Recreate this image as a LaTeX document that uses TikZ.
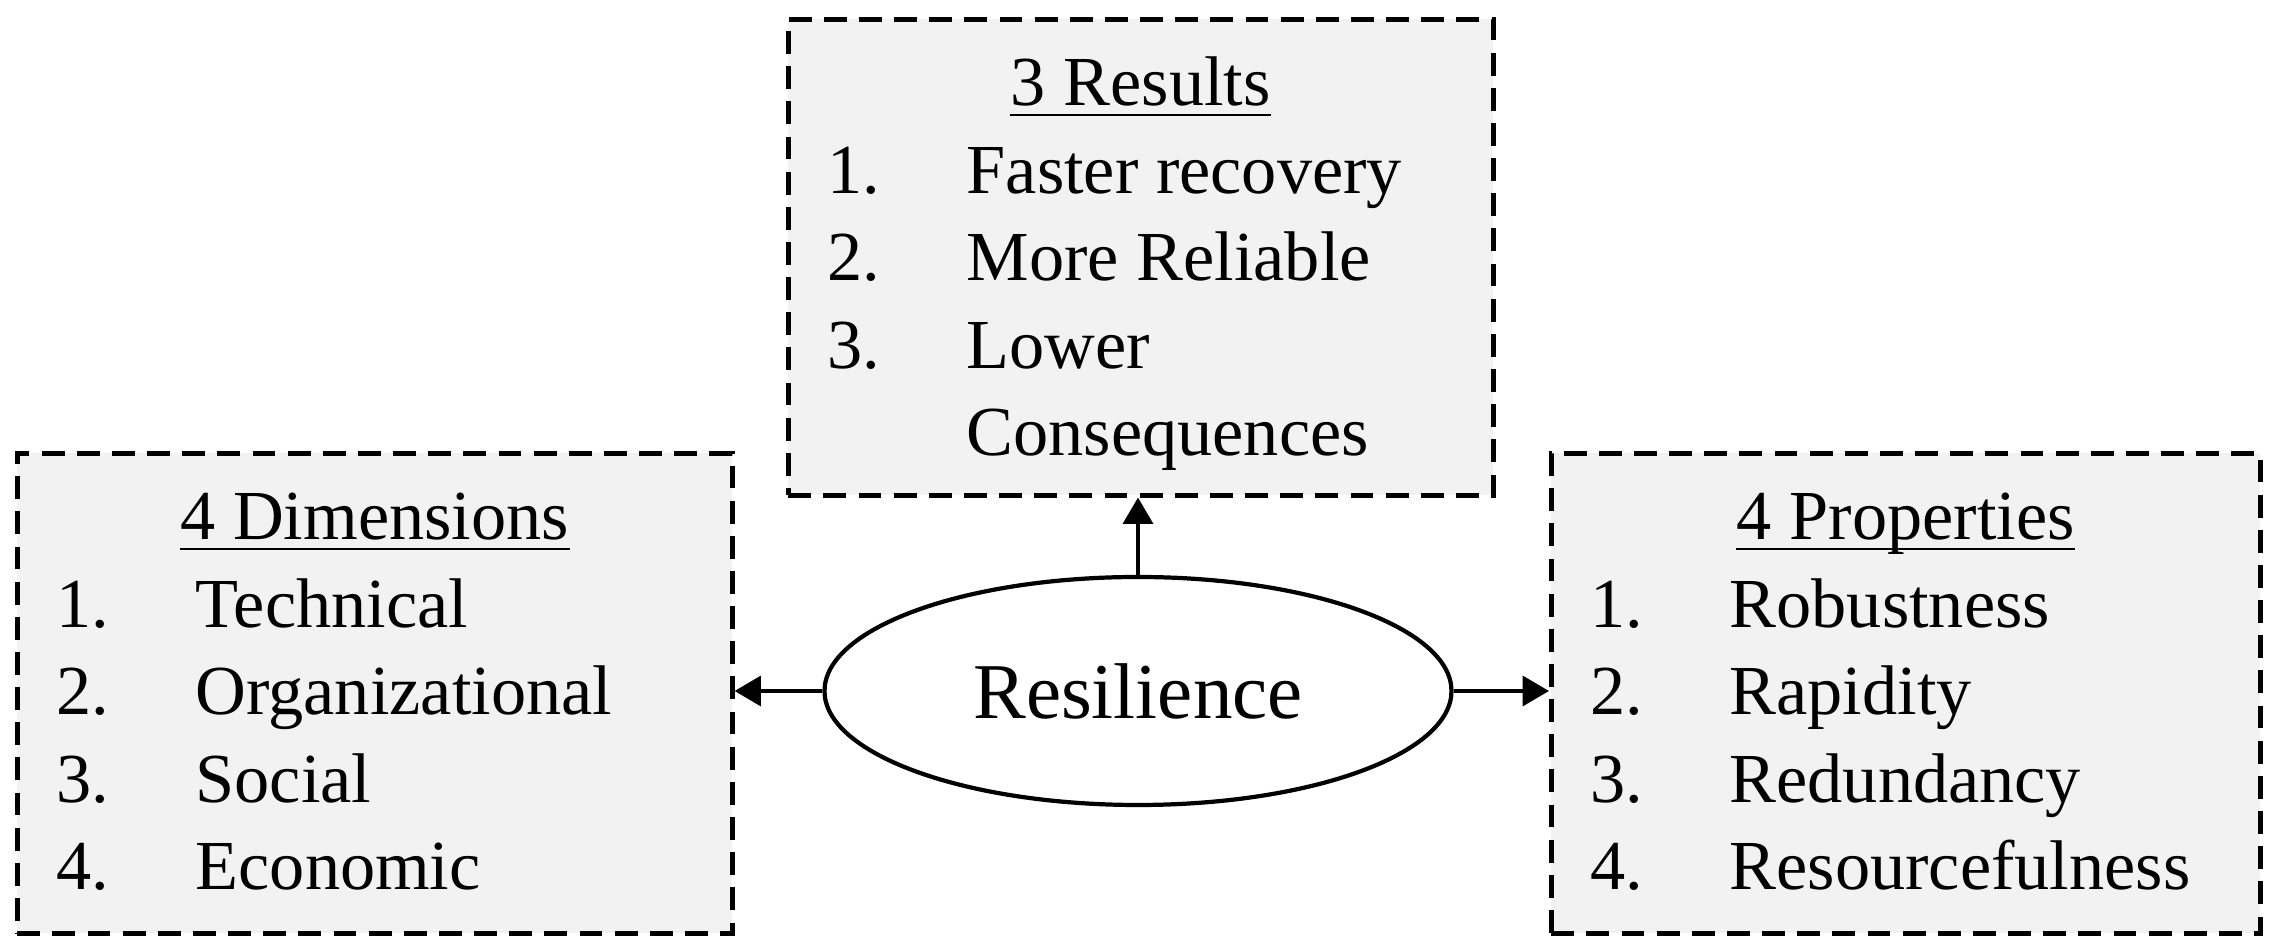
\documentclass[tikz,border=0pt]{standalone}
\usepackage{fontspec}
\setmainfont{Liberation Serif}
\usetikzlibrary{arrows.meta}
\usetikzlibrary{shapes.geometric}
\definecolor{boxgray}{HTML}{F2F2F2}

\begin{document}
\begin{tikzpicture}[
  box/.style={draw, line width=1.3pt, dash pattern=on 6.5pt off 3.5pt, fill=boxgray,
    inner sep=0pt, anchor=north west},
  head/.style={inner sep=0pt, anchor=base, font=\fontsize{20}{24}\selectfont},
  item/.style={inner sep=0pt, anchor=base west, font=\fontsize{20}{24}\selectfont},
  link/.style={line width=1.1pt, -{Triangle[length=7.5pt,width=8.5pt]}}
]
\useasboundingbox (0,0) rectangle (22.74,9.5);
% boxes
\node[box, minimum width=7.05cm, minimum height=4.76cm] (results) at (7.86,9.33) {};
\node[box, minimum width=7.15cm, minimum height=4.80cm] (dims) at (0.15,4.99) {};
\node[box, minimum width=7.09cm, minimum height=4.80cm] (props) at (15.49,4.99) {};
\node[ellipse, draw, line width=1.2pt, minimum width=6.27cm, minimum height=2.28cm,
  inner sep=0pt, font=\fontsize{22.5}{27}\selectfont] (res) at (11.38,2.59) {Resilience};
% headings, underlined
\foreach \bx/\hd in {results/3 Results, dims/4 Dimensions, props/4 Properties}{
  \node[head] (\bx-hd) at ([yshift=-0.89cm]\bx.north) {\hd};
  \draw[line width=0.8pt] ([yshift=-0.09cm]\bx-hd.base west) -- ([yshift=-0.09cm]\bx-hd.base east);
}
% lists
\foreach \bx/\lst in {results/{Faster recovery,More Reliable,Lower},
    dims/{Technical,Organizational,Social,Economic},
    props/{Robustness,Rapidity,Redundancy,Resourcefulness}}{
  \foreach \t [count=\i] in \lst{
    \node[item] (\bx-n\i) at ([xshift=0.41cm, yshift={-0.89cm-0.875cm*\i}]\bx.north west) {\i.};
    \node[item] (\bx-t\i) at ([xshift=1.80cm, yshift={-0.89cm-0.875cm*\i}]\bx.north west) {\t};
  }
}
\node[item] (results-t4) at ([yshift=-0.875cm]results-t3.base west) {Consequences};
% arrows
\draw[link] (res.north) -- (res.north |- results.south);
\draw[link] (res.west) -- (res.west -| dims.east);
\draw[link] (res.east) -- (res.east -| props.west);
\end{tikzpicture}
\end{document}
